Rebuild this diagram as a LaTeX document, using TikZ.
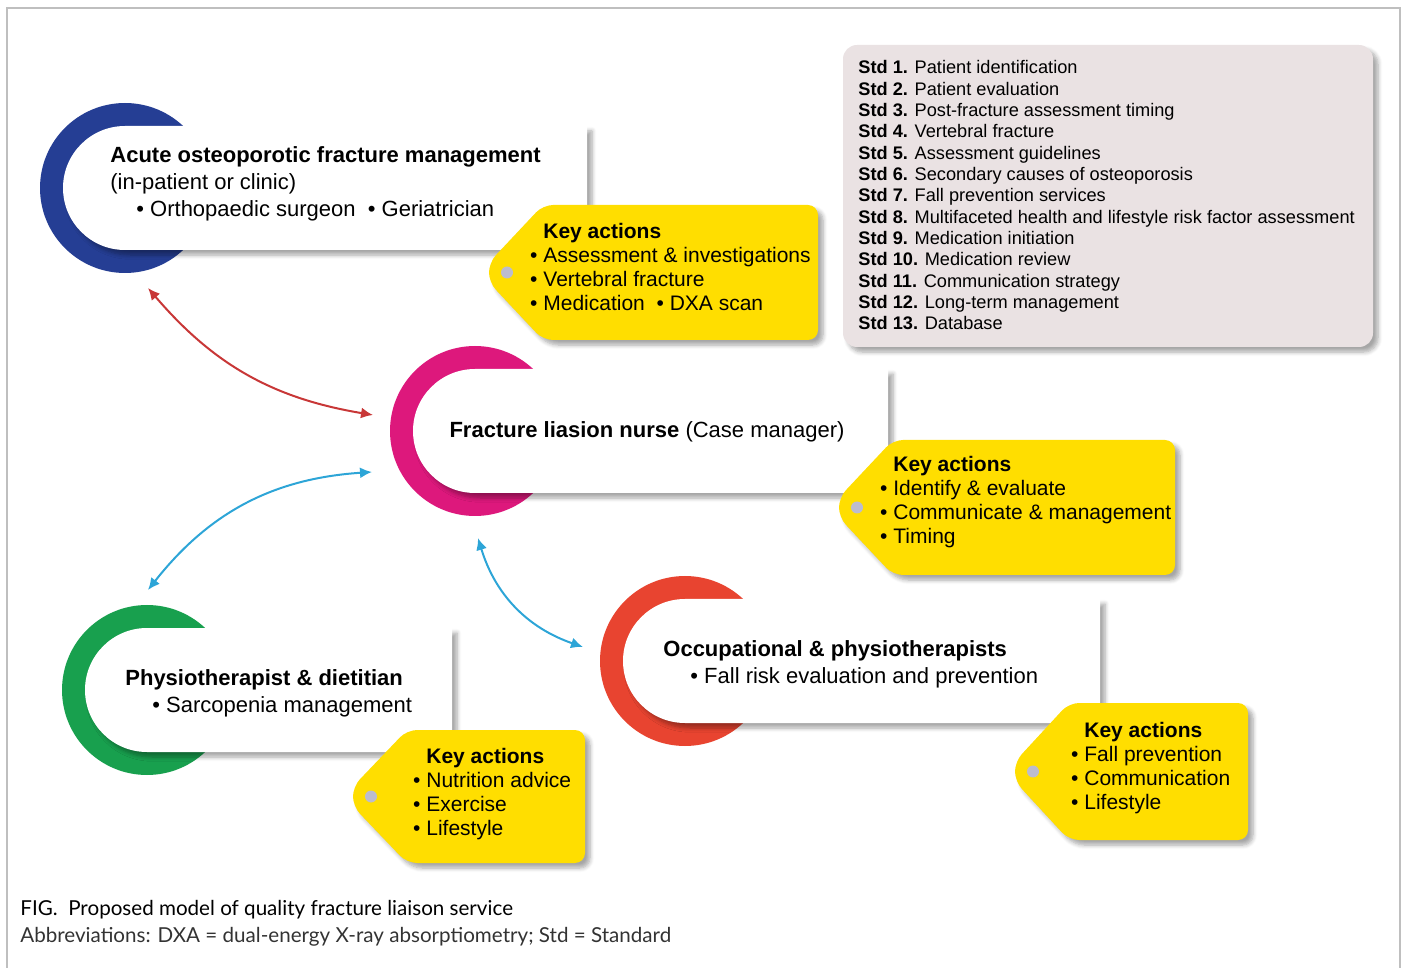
\documentclass[tikz,border=0pt]{standalone}
\usepackage{fontspec}
\setmainfont{Liberation Sans}
\newfontfamily\capfont{Lato}
\usetikzlibrary{arrows.meta,shadows.blur}

\definecolor{acuteblue}{RGB}{37,62,148}
\definecolor{flnpink}{RGB}{221,24,124}
\definecolor{physiogreen}{RGB}{24,160,78}
\definecolor{occured}{RGB}{232,68,48}
\definecolor{tagyellow}{RGB}{255,222,0}
\definecolor{taghole}{RGB}{188,188,206}
\definecolor{stdpink}{RGB}{234,226,227}
\definecolor{linkred}{RGB}{200,55,55}
\definecolor{linkblue}{RGB}{45,165,215}

\tikzset{
  panelshadow/.style={blur shadow={shadow xshift=2.5pt,shadow yshift=-2.5pt,shadow blur steps=6,shadow opacity=35}},
  roletext/.style={inner sep=0pt,align=left,font=\fontsize{11}{13.5}\selectfont},
  tagtext/.style={inner sep=0pt,align=left,font=\fontsize{10.5}{12}\selectfont},
  stdtext/.style={inner sep=0pt,align=left,font=\fontsize{9.1}{10.67}\selectfont},
  link/.style={<->,>={Latex[length=6pt,width=5.5pt]},line width=1pt},
  redlink/.style={link,linkred},
  bluelink/.style={link,linkblue}
}

% crescent with white panel: (centre x,centre y)(right edge){colour}
\def\rolepanel(#1,#2)(#3)#4{%
  \fill[#4] (#1,#2) circle (85);
  \fill[white,panelshadow] (#1,#2-62) -- (#3,#2-62) -- (#3,#2+62) -- (#1,#2+62) arc (90:270:62) -- cycle;
}
% yellow key-action tag: (body left,top)(right,bottom)
\def\keytag(#1,#2)(#3,#4){%
  \fill[tagyellow,rounded corners=5pt,panelshadow] (#1,#2) -- (#3,#2) -- (#3,#4) -- (#1,#4)
    -- ({#1-54},{(#2+#4)/2+10}) -- ({#1-54},{(#2+#4)/2-10}) -- cycle;
  \fill[taghole] ({#1-36},{(#2+#4)/2}) circle (6);
}
\def\kb{\llap{\textbullet\ }}

\begin{document}
\begin{tikzpicture}[x=0.5pt,y=-0.5pt]
  \useasboundingbox (0,0) rectangle (1405,968);
  %%%%% FRAME %%%%%
  \draw[black!25,line width=0.6pt] (7,975) -- (7,8) -- (1400,8) -- (1400,975);

  %%%%% ROLE PANELS %%%%%
  \rolepanel(125,188)(587){acuteblue}
  \rolepanel(475,431)(888){flnpink}
  \rolepanel(147,690)(452){physiogreen}
  \rolepanel(685,661)(1100){occured}

  %%%%% TAGS %%%%%
  \keytag(543,205)(818,340)
  \keytag(893,440)(1175,575)
  \keytag(407,730)(585,863)
  \keytag(1069,703)(1248,840)

  %%%%% STANDARDS %%%%%
  % base anchor of a multi-line node = last line
  \fill[stdpink,rounded corners=7pt,panelshadow] (843,45) rectangle (1373,347);
  \node[stdtext,anchor=base west] (stds) at (858,330) {%
    \textbf{Std 1.} Patient identification\\
    \textbf{Std 2.} Patient evaluation\\
    \textbf{Std 3.} Post-fracture assessment timing\\
    \textbf{Std 4.} Vertebral fracture\\
    \textbf{Std 5.} Assessment guidelines\\
    \textbf{Std 6.} Secondary causes of osteoporosis\\
    \textbf{Std 7.} Fall prevention services\\
    \textbf{Std 8.} Multifaceted health and lifestyle risk factor assessment\\
    \textbf{Std 9.} Medication initiation\\
    \textbf{Std 10.} Medication review\\
    \textbf{Std 11.} Communication strategy\\
    \textbf{Std 12.} Long-term management\\
    \textbf{Std 13.} Database};

  %%%%% TEXTS %%%%%
  \node[roletext,anchor=base west] (acute) at (110,217) {\textbf{Acute osteoporotic fracture management}\\
    (in-patient or clinic)\\
    \hspace*{13pt}\textbullet\ Orthopaedic surgeon\ \ \textbullet\ Geriatrician};
  \node[roletext] (fln) at (647,432) {\textbf{Fracture liasion nurse} (Case manager)};
  \node[roletext,anchor=base west] (physio) at (125,712) {\textbf{Physiotherapist \& dietitian}\\
    \hspace*{13.5pt}\textbullet\ Sarcopenia management};
  \node[roletext,anchor=base west] (occu) at (663,683) {\textbf{Occupational \& physiotherapists}\\
    \hspace*{13.5pt}\textbullet\ Fall risk evaluation and prevention};

  \node[tagtext,anchor=base west] (acutetag) at (543,311) {\textbf{Key actions}\\
    \kb Assessment \& investigations\\ \kb Vertebral fracture\\ \kb Medication\ \ \textbullet\ DXA scan};
  \node[tagtext,anchor=base west] (flntag) at (893,544) {\textbf{Key actions}\\
    \kb Identify \& evaluate\\ \kb Communicate \& management\\ \kb Timing};
  \node[tagtext,anchor=base west] (physiotag) at (426,835) {\textbf{Key actions}\\
    \kb Nutrition advice\\ \kb Exercise\\ \kb Lifestyle};
  \node[tagtext,anchor=base west] (occutag) at (1084,809) {\textbf{Key actions}\\
    \kb Fall prevention\\ \kb Communication\\ \kb Lifestyle};

  %%%%% LINKS %%%%%
  \coordinate (acuteend) at (148,288);
  \coordinate (flntop) at (373,415);
  \coordinate (physioend) at (148,590);
  \coordinate (flnleft) at (372,472);
  \coordinate (flnbottom) at (478,538);
  \coordinate (occuend) at (583,647);
  \draw[redlink] (acuteend) to[bend right=20] (flntop);
  \draw[bluelink] (physioend) to[bend left=24] (flnleft);
  \draw[bluelink] (flnbottom) to[bend right=27] (occuend);

  %%%%% CAPTION %%%%%
  \node[inner sep=0pt,anchor=base west,align=left,font=\capfont\fontsize{10.3}{13.5}\selectfont] (caption) at (20,942)
    {FIG.\ \ Proposed model of quality fracture liaison service\\
     \color{black!80}Abbreviations: DXA = dual-energy X-ray absorptiometry; Std = Standard};
\end{tikzpicture}
\end{document}
